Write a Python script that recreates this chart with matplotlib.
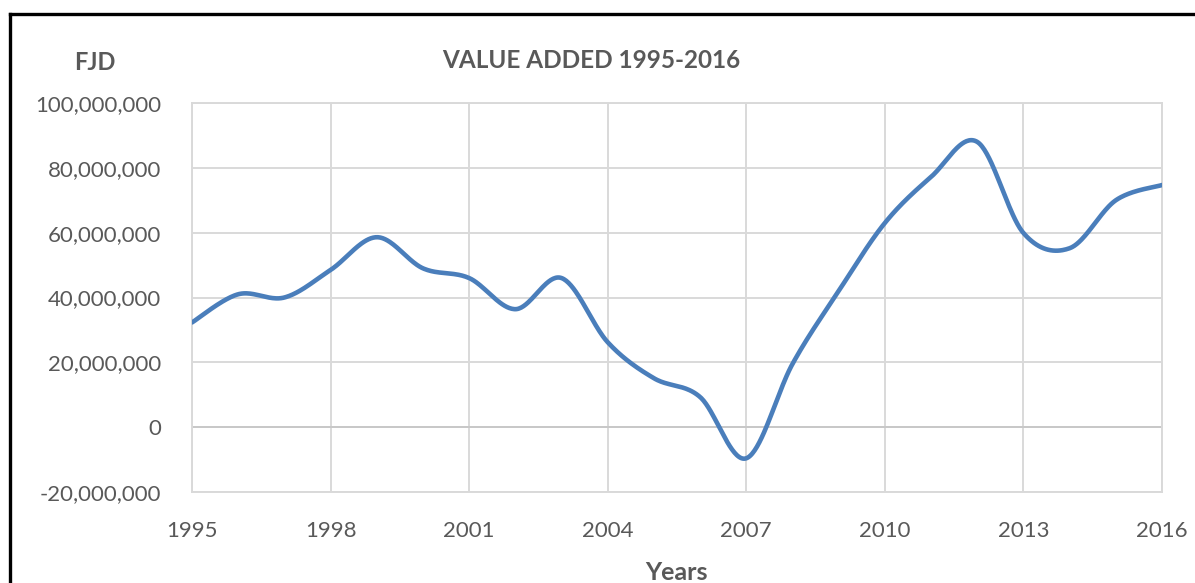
import numpy as np
import matplotlib
matplotlib.use("Agg")
import matplotlib.pyplot as plt
from matplotlib.lines import Line2D
from matplotlib.ticker import FuncFormatter

years = list(range(1995, 2017))
value_added = [32.3, 41.0, 40.0, 48.5, 58.6, 49.0, 46.0, 36.4, 46.0, 26.2, 15.1,
               9.3, -9.6, 19.5, 42.0, 63.0, 77.2, 88.0, 59.9, 55.2, 70.0, 74.7]
value_added = [v * 1e6 for v in value_added]
x_ticks = list(range(1995, 2017, 3))
y_ticks = list(range(-20_000_000, 100_000_001, 20_000_000))

TEXT = "#595959"
GRID = "#d9d9d9"
BLUE = "#4a7ebb"


def excel_smooth(xs, ys, n=40):
    # bezier smoothing like Excel's "smoothed line"
    xs = np.asarray(xs, float)
    ys = np.asarray(ys, float)
    px = np.concatenate([[xs[0]], xs, [xs[-1]]])
    py = np.concatenate([[ys[0]], ys, [ys[-1]]])
    out_x, out_y = [], []
    t = np.linspace(0, 1, n)
    for i in range(1, len(px) - 2):
        p0 = np.array([px[i], py[i]])
        p3 = np.array([px[i + 1], py[i + 1]])
        c1 = p0 + (np.array([px[i + 1], py[i + 1]]) - np.array([px[i - 1], py[i - 1]])) / 6
        c2 = p3 - (np.array([px[i + 2], py[i + 2]]) - np.array([px[i], py[i]])) / 6
        b = ((1 - t) ** 3)[:, None] * p0 + (3 * (1 - t) ** 2 * t)[:, None] * c1 \
            + (3 * (1 - t) * t ** 2)[:, None] * c2 + (t ** 3)[:, None] * p3
        out_x.extend(b[:, 0])
        out_y.extend(b[:, 1])
    return out_x, out_y


plt.rcParams["font.family"] = ["Lato", "DejaVu Sans"]

fig = plt.figure(figsize=(11.95, 5.83), dpi=100)
ax = fig.add_axes([192 / 1195, 1 - 492 / 583, 970 / 1195, 389 / 583])

sx, sy = excel_smooth(years, value_added)
ax.plot(sx, sy, color=BLUE, lw=3.3, solid_capstyle="round", zorder=3)

ax.set_xlim(1995, 2016)
ax.set_ylim(-20_000_000, 100_000_000)
ax.set_xticks(x_ticks)
ax.set_yticks(y_ticks)
ax.yaxis.set_major_formatter(FuncFormatter(lambda v, p: f"{int(v):,}"))
ax.tick_params(length=0, labelsize=16, colors=TEXT)
ax.tick_params(axis="x", pad=21)
ax.tick_params(axis="y", pad=22)
ax.grid(True, color=GRID, lw=1.4)
ax.axhline(0, color="#c8c8c8", lw=1.4, zorder=2)
for s in ax.spines.values():
    s.set_color(GRID)
    s.set_linewidth(1.4)

fig.text(591 / 1195, 1 - 61 / 583, "VALUE ADDED 1995-2016", ha="center", va="center",
         fontsize=17.5, fontweight="bold", color=TEXT)
fig.text(95 / 1195, 1 - 63 / 583, "FJD", ha="center", va="center",
         fontsize=17, fontweight="bold", color=TEXT)
fig.text(676 / 1195, 1 - 572 / 583, "Years", ha="center", va="center",
         fontsize=18, fontweight="bold", color=TEXT)

# outer frame (left and top edges visible)
fig.add_artist(Line2D([10 / 1195, 10 / 1195], [0, 1 - 14 / 583], transform=fig.transFigure,
                      color="black", lw=2.4))
fig.add_artist(Line2D([10 / 1195, 1], [1 - 14 / 583, 1 - 14 / 583], transform=fig.transFigure,
                      color="black", lw=2.4))

fig.savefig("out.png", dpi=100)
